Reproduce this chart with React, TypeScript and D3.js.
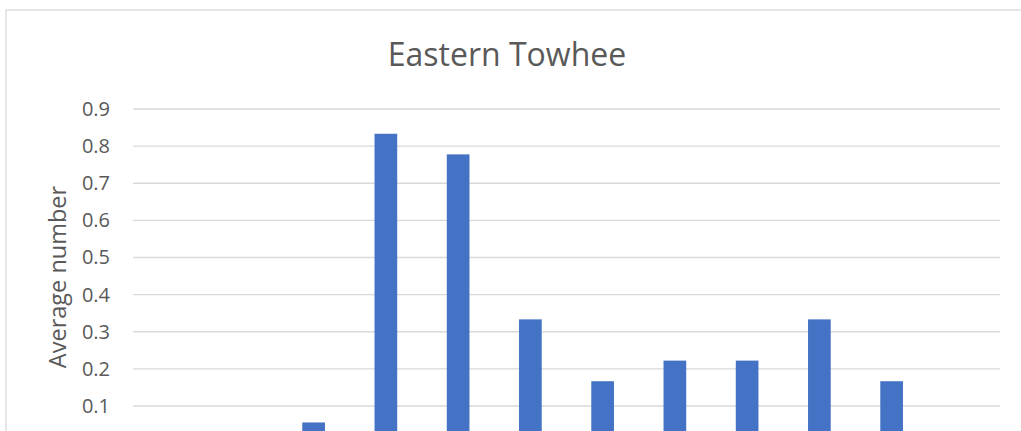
import React from "react";
import * as d3 from "d3";

const title = "Eastern Towhee";
const yAxisTitle = "Average number";
const categories = ["c1", "c2", "c3", "c4", "c5", "c6", "c7", "c8", "c9", "c10", "c11", "c12"];
const values = [0, 0, 0.0556, 0.8333, 0.7778, 0.3333, 0.1667, 0.2222, 0.2222, 0.3333, 0.1667, 0];
const yTicks = [0, 0.1, 0.2, 0.3, 0.4, 0.5, 0.6, 0.7, 0.8, 0.9];

export default function App() {
  const W = 1021;
  const H = 431;
  const left = 133;
  const right = 1000;
  const y0 = 443.1;
  const y9 = 109;
  const x = d3.scaleBand<string>().domain(categories).range([left, right]).paddingInner(0.686).paddingOuter(0.343);
  const y = d3.scaleLinear().domain([0, 0.9]).range([y0, y9]);
  const font = "'Open Sans', sans-serif";
  return (
    <div style={{ position: "absolute", left: 0, top: 0, width: W, height: H, overflow: "hidden" }}>
      <svg width={W} height={H} style={{ display: "block" }}>
        <rect x={0} y={0} width={W} height={H} fill="#fff" />
        <rect x={6} y={10} width={W + 20} height={H + 100} fill="#fff" stroke="#d9d9d9" strokeWidth={1.3} />
        <text x={507} y={66} textAnchor="middle" fontFamily={font} fontSize={32} fill="#595959">{title}</text>
        {yTicks.filter((t) => y(t) < H).map((t) => (
          <g key={t}>
            <line x1={left} x2={right} y1={y(t)} y2={y(t)} stroke="#d9d9d9" strokeWidth={1.3} />
            <text x={110} y={y(t)} dy="0.35em" textAnchor="end" fontFamily={font} fontSize={20} fill="#595959">{d3.format(".1f")(t)}</text>
          </g>
        ))}
        <text transform={`translate(66,${277}) rotate(-90)`} textAnchor="middle" fontFamily={font} fontSize={23.5} fill="#595959">{yAxisTitle}</text>
        {values.map((v, i) => (
          <rect key={categories[i]} x={x(categories[i])} y={y(v)} width={x.bandwidth()} height={y0 - y(v)} fill="#4472c4" />
        ))}
      </svg>
    </div>
  );
}
